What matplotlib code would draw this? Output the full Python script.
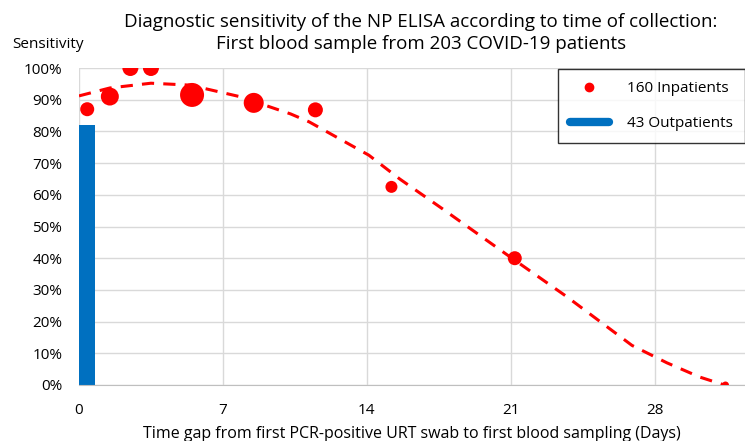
import numpy as np
import matplotlib.pyplot as plt
from matplotlib.lines import Line2D

# inpatients: day bins, sensitivity, marker radius (px)
days = [0.4, 1.5, 2.5, 3.5, 5.5, 8.5, 11.5, 15.2, 21.2, 31.45]
sens = [87, 91, 100, 100, 91.5, 89, 86.8, 62.5, 40, 0]
dot_r = [7, 9, 8, 8, 12, 10, 7.5, 6, 7, 3.5]

# trend line (dashed)
trend_x = [0, 1.5, 3.5, 5.4, 7.8, 10.3, 11.2, 14.1, 15.6, 17.7, 20.95, 23.7, 26.9, 28.6, 30.2, 31.4]
trend_y = [91.2, 93.7, 95.2, 94.6, 91, 85.5, 83, 72.5, 65, 55.5, 40.5, 28, 12.5, 7, 2.5, 0]

# outpatients
out_x = [0.4]
out_y = [82]

plt.rcParams['font.family'] = ['Open Sans', 'DejaVu Sans']

fig = plt.figure(figsize=(7.45, 4.41), dpi=100)
ax = fig.add_axes([79/745, 1-385/441, 1-79/745, (385-68)/441])

red = "#FF0000"
blue = "#0070C0"

ax.bar(out_x, out_y, width=0.8, color=blue, zorder=2)
ax.plot(trend_x, trend_y, color=red, ls=(0, (4, 3)), lw=2.2, zorder=3)
s = [(2*r*0.72)**2 for r in dot_r]
ax.scatter(days, sens, s=s, color=red, zorder=4, linewidths=0)

ax.set_xlim(0, 32.4)
ax.set_ylim(0, 100)
ax.set_xticks([0, 7, 14, 21, 28])
ax.set_yticks(range(0, 101, 10))
ax.set_yticklabels([f"{v}%" for v in range(0, 101, 10)])
ax.grid(color="#d9d9d9", lw=1)
ax.set_axisbelow(True)
for sp in ["top", "right", "left"]:
    ax.spines[sp].set_visible(False)
ax.spines["bottom"].set_color("#bfbfbf")
ax.tick_params(length=0, labelsize=11)
ax.tick_params(axis="y", pad=12)
ax.tick_params(axis="x", pad=13)

ax.set_xlabel("Time gap from first PCR-positive URT swab to first blood sampling (Days)", fontsize=11.5, labelpad=6)
fig.text(12/745, 1-45/441, "Sensitivity", fontsize=11, va="center", ha="left")
fig.text(421/745, 1-33/441, "Diagnostic sensitivity of the NP ELISA according to time of collection:\nFirst blood sample from 203 COVID-19 patients",
         fontsize=13.5, ha="center", va="center", linespacing=1.25)

handles = [Line2D([], [], marker="o", color=red, ls="none", markersize=6),
           Line2D([], [], color=blue, lw=6, solid_capstyle="round")]
leg = fig.legend(handles, ["160 Inpatients", "43 Outpatients"], loc="upper right",
                 bbox_to_anchor=(1.0, 1-69/441), fontsize=11, frameon=True, fancybox=False,
                 edgecolor="black", labelspacing=1.3, handlelength=2.5, borderpad=0.8,
                 handletextpad=1.2, borderaxespad=0)
leg.get_frame().set_linewidth(1)

fig.savefig("out.png", dpi=100)
